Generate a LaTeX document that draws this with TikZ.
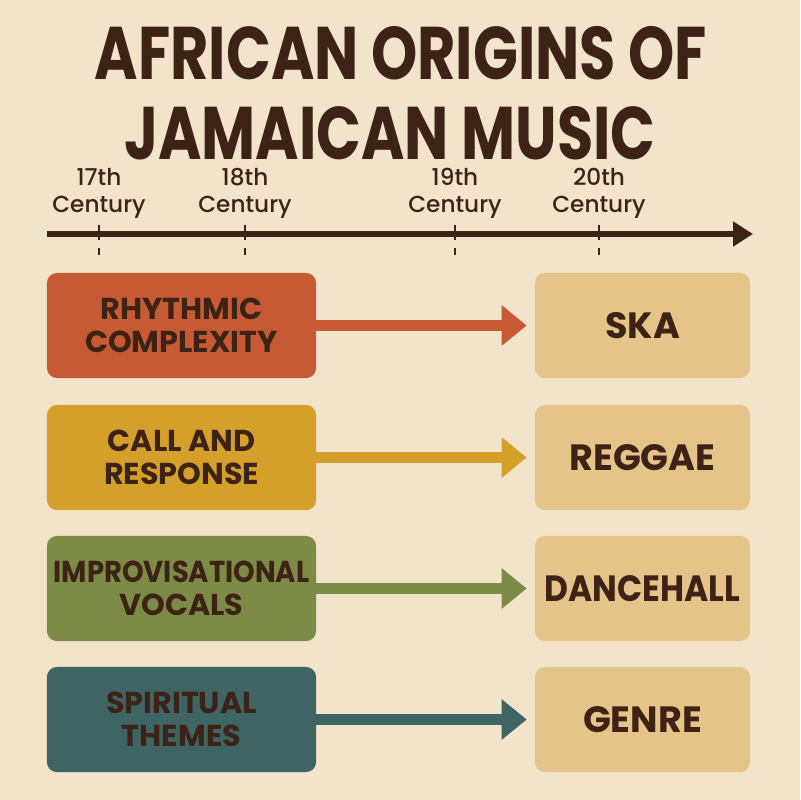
\documentclass[tikz,border=0pt]{standalone}
\usepackage{fontspec}
\setmainfont{Poppins}
\newfontfamily\titlefont{Poppins}[FakeStretch=0.79]
\newfontfamily\midfont{Poppins Medium}
\usetikzlibrary{arrows.meta,positioning}
\definecolor{paper}{HTML}{F2E4CA}
\definecolor{ink}{HTML}{3D2216}
\definecolor{rustbox}{HTML}{C65A35}
\definecolor{mustardbox}{HTML}{D5A02A}
\definecolor{olivebox}{HTML}{7C8B45}
\definecolor{tealbox}{HTML}{3E6463}
\definecolor{genrebox}{HTML}{E5C48A}

\begin{document}
\begin{tikzpicture}[x=0.025cm, y=-0.025cm,
    rootbox/.style={rounded corners=7pt, minimum width=6.725cm, minimum height=2.625cm,
      inner sep=0pt, align=center, text=ink, font=\bfseries\fontsize{21.5}{23.5}\selectfont},
    genrenode/.style={fill=genrebox, rounded corners=7pt, minimum width=5.375cm,
      minimum height=2.625cm, inner sep=0pt, text=ink, font=\bfseries\fontsize{26}{28}\selectfont},
    flow/.style={line width=7.8pt, shorten >=0.2cm, -{Triangle[length=0.625cm, width=0.975cm]}},
    century/.style={anchor=south, inner sep=0pt, align=center, text=ink,
      font=\midfont\fontsize{16.5}{19}\selectfont}]
  % background
  \fill[paper] (0,0) rectangle (800,800);
  \useasboundingbox (0,0) rectangle (800,800);

  % title
  \node[anchor=base, text=ink, font=\titlefont\bfseries\fontsize{53}{56}\selectfont] (title top) at (401,80) {AFRICAN ORIGINS OF};
  \node[anchor=base, text=ink, font=\titlefont\bfseries\fontsize{53}{56}\selectfont] (title bottom) at (390,160) {JAMAICAN MUSIC};

  % timeline
  \coordinate (tl start) at (47,234);
  \coordinate (tl end) at (753,234);
  \draw[ink, line width=3.6pt, -{Triangle[length=0.5cm, width=0.6cm]}] (tl start) -- (tl end);
  \foreach \x/\lbl in {99/17th, 245/18th, 455/19th, 599/20th}{
    \draw[ink, line width=1.1pt, dash pattern=on 0.38cm off 0.2cm] (\x,225) -- (\x,255);
    \node[century] (c\lbl) at (\x,219) {\lbl\\Century};
  }

  % left boxes
  \node[rootbox, fill=rustbox] (rhythm) at (181.5,325.5) {RHYTHMIC\\COMPLEXITY};
  \node[rootbox, fill=mustardbox] (call) at (181.5,457.5) {CALL AND\\RESPONSE};
  \node[rootbox, fill=olivebox] (improv) at (181.5,588.5) {\scalebox{0.91}[1]{IMPROVISATIONAL}\\VOCALS};
  \node[rootbox, fill=tealbox] (spirit) at (181.5,719.5) {SPIRITUAL\\THEMES};

  % right boxes
  \node[genrenode] (ska) at (642.5,325.5) {SKA};
  \node[genrenode] (reggae) at (642.5,457.5) {REGGAE};
  \node[genrenode] (dancehall) at (642.5,588.5) {\scalebox{0.9}[1]{DANCEHALL}};
  \node[genrenode] (genre) at (642.5,719.5) {GENRE};

  % add arrows
  \draw[flow, rustbox] (rhythm) -- (ska);
  \draw[flow, mustardbox] (call) -- (reggae);
  \draw[flow, olivebox] (improv) -- (dancehall);
  \draw[flow, tealbox] (spirit) -- (genre);
\end{tikzpicture}
\end{document}
